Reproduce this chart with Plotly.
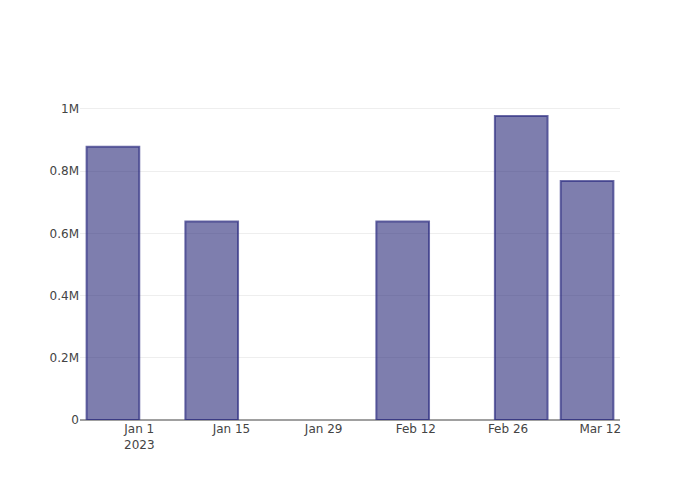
import plotly.graph_objects as go

dates = ["2022-12-28", "2023-01-12", "2023-02-10", "2023-02-28", "2023-03-10"]
values = [878000, 638000, 638000, 977000, 768000]

fig = go.Figure()
fig.add_trace(go.Bar(
    x=dates,
    y=values,
    marker=dict(
        color="rgba(40,40,120,0.6)",
        line=dict(color="rgba(45,45,130,0.7)", width=2),
    ),
))

fig.update_layout(
    template="none",
    font=dict(family="DejaVu Sans", size=12, color="#444"),
    paper_bgcolor="white",
    plot_bgcolor="white",
    showlegend=False,
    margin=dict(l=72, r=72, t=92, b=72),
    xaxis=dict(
        type="date",
        showgrid=False,
        zeroline=False,
        showline=False,
        dtick=14 * 24 * 3600 * 1000,
        tick0="2023-01-01",
    ),
    yaxis=dict(
        showgrid=True,
        gridcolor="#eee",
        zeroline=True,
        zerolinecolor="#a0a0a0",
        zerolinewidth=2,
        showline=False,
        dtick=200000,
    ),
)

fig.write_html("out.html")
